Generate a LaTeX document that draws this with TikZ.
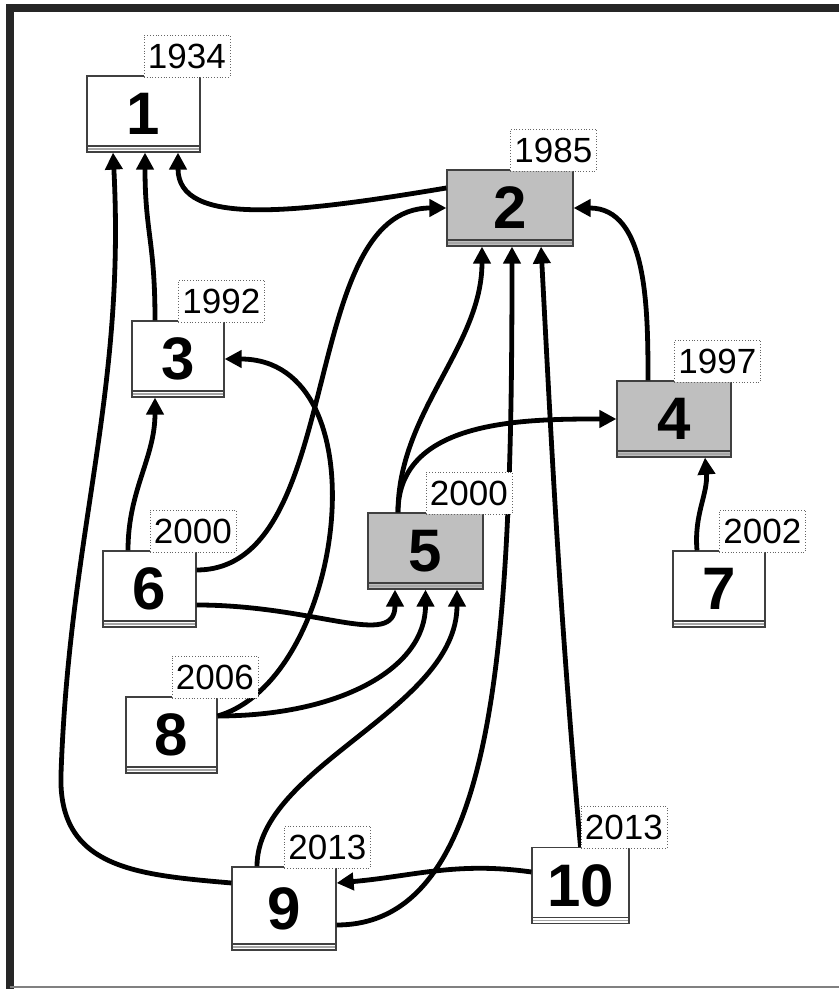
\documentclass[tikz,border=0pt]{standalone}
\usepackage{fontspec}
\setmainfont{Liberation Sans}
\usetikzlibrary{arrows.meta}

\tikzset{
  doc/.style={draw=black!75, fill=white, line width=0.6pt, inner sep=0pt,
    minimum height=38pt, font=\bfseries\fontsize{30}{30}\selectfont,
    path picture={
      \draw[black!75, line width=0.6pt] ([yshift=3pt]path picture bounding box.south west) -- ([yshift=3pt]path picture bounding box.south east);
      \draw[black!35, line width=0.6pt] ([yshift=1.5pt]path picture bounding box.south west) -- ([yshift=1.5pt]path picture bounding box.south east);
    }},
  docgray/.style={doc, fill=black!25},
  year/.style={draw=black!60, densely dotted, fill=white, line width=0.4pt, inner sep=0pt,
    minimum width=43pt, minimum height=21pt, font=\fontsize{17.5}{17.5}\selectfont,
    anchor=south west, yshift=-1pt},
  cite/.style={line width=2.4pt, -{Triangle[length=8.5pt,width=8.5pt]}},
}

\begin{document}
\begin{tikzpicture}[x=0.5pt, y=0.5pt]
  \useasboundingbox (0,0) rectangle (839,989);
  % frame
  \draw[line width=4pt, black!85] (9.5,-5) -- (9.5,981) -- (850,981);
  \draw[black!50, line width=0.6pt] (9.5,2) -- (850,2);

  % documents
  \node[doc, minimum width=56.5pt] (b1) at (143.5,875) {1};
  \node[docgray, minimum width=63pt] (b2) at (510,781) {2};
  \node[doc, minimum width=46pt] (b3) at (178,630) {3};
  \node[docgray, minimum width=57pt] (b4) at (674,570) {4};
  \node[docgray, minimum width=57.5pt] (b5) at (425.5,438) {5};
  \node[doc, minimum width=46.5pt] (b6) at (149.5,400) {6};
  \node[doc, minimum width=46pt] (b7) at (719,400) {7};
  \node[doc, minimum width=45.5pt] (b8) at (171.5,254) {8};
  \node[doc, minimum width=52pt, minimum height=41.5pt] (b9) at (284,80.5) {9};
  \node[doc, minimum width=48.5pt] (b10) at (580.5,103.5) {10};

  \coordinate (bend9) at (61,215);

  % citations
  \draw[cite] ([yshift=10pt]b2.west) .. controls +(-150,-25) and +(0,-75) .. ([xshift=17.25pt]b1.south);
  \draw[cite] ([xshift=-11.5pt]b3.north) .. controls +(0,80) and +(0,-80) .. ([xshift=0.75pt]b1.south);
  \draw[cite] ([yshift=12.75pt]b9.west) to[out=175,in=-92,looseness=1.2] (bend9) to[out=88,in=-87] ([xshift=-15.25pt]b1.south);
  \draw[cite] ([xshift=-10.75pt]b6.north) to[out=90,in=-90] ([xshift=-11.5pt]b3.south);
  \draw[cite] ([yshift=9.5pt]b6.east) .. controls +(150,0) and +(-150,0) .. (b2.west);
  \draw[cite] ([yshift=-8pt]b6.east) .. controls +(120,0) and +(0,-60) .. ([xshift=-15.25pt]b5.south);
  \draw[cite] ([yshift=9.5pt]b8.east) .. controls +(128,37) and +(160,0) .. (b3.east);
  \draw[cite] ([yshift=9.5pt]b8.east) .. controls +(120,0) and +(0,-80) .. (b5.south);
  \draw[cite] ([xshift=-13.5pt]b9.north) .. controls +(0,100) and +(0,-120) .. ([xshift=15.75pt]b5.south);
  \draw[cite] ([yshift=-8.25pt]b9.east) .. controls +(160,0) and +(0,-400) .. ([xshift=1pt]b2.south);
  \draw[cite] (b10.north) to[out=95,in=-87] ([xshift=15.5pt]b2.south);
  \draw[cite] ([yshift=6.75pt]b10.west) to[out=172,in=5] ([yshift=12.75pt]b9.east);
  \draw[cite] ([xshift=-13.75pt]b5.north) .. controls +(0,100) and +(0,-100) .. ([xshift=-14pt]b2.south);
  \draw[cite] ([xshift=-13.75pt]b5.north) to[out=90,in=180] (b4.west);
  \draw[cite] ([xshift=-13pt]b4.north) to[out=90,in=0] (b2.east);
  \draw[cite] ([xshift=-11pt]b7.north) to[out=95,in=-85] ([xshift=15.5pt]b4.south);

  % years
  \foreach \n/\y in {b1/1934, b2/1985, b3/1992, b4/1997, b5/2000, b6/2000, b7/2002, b8/2006, b9/2013, b10/2013}
    \node[year] (\n-year) at (\n.north) {\y};
\end{tikzpicture}
\end{document}
